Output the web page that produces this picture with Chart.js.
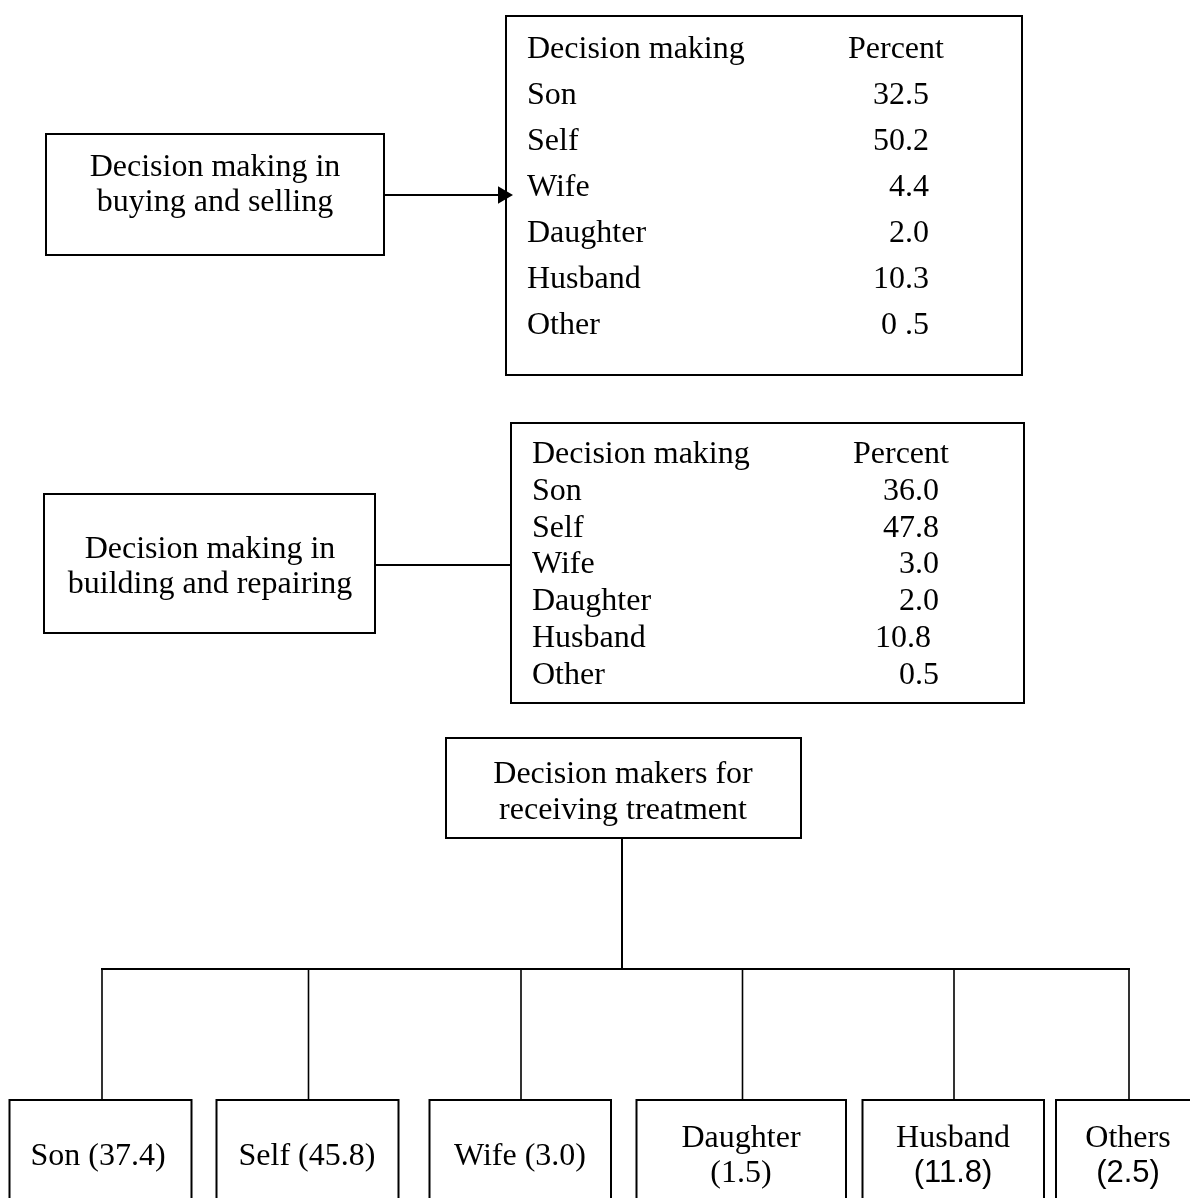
<!DOCTYPE html>
<html>
<head>
<meta charset="utf-8">
<script src="https://cdn.jsdelivr.net/npm/chart.js@4.4.1/dist/chart.umd.min.js"></script>
<style>
  html, body { margin: 0; padding: 0; background: #fff; }
  #wrap { width: 1190px; height: 1198px; position: relative; }
</style>
</head>
<body>
<div id="wrap"><canvas id="diagram"></canvas></div>
<script>
// DATA
const buyCats = ['Son', 'Self', 'Wife', 'Daughter', 'Husband', 'Other'];
const buyValues = [32.5, 50.2, 4.4, 2.0, 10.3, 0.5];
const buyLabels = ['32.5', '50.2', '4.4', '2.0', '10.3', '0 .5'];

const buildCats = ['Son', 'Self', 'Wife', 'Daughter', 'Husband', 'Other'];
const buildValues = [36.0, 47.8, 3.0, 2.0, 10.8, 0.5];
const buildLabels = ['36.0', '47.8', '3.0', '2.0', '10.8 ', '0.5'];

const treatCats = ['Son', 'Self', 'Wife', 'Daughter', 'Husband', 'Others'];
const treatValues = [37.4, 45.8, 3.0, 1.5, 11.8, 2.5];
const treatLabels = ['37.4', '45.8', '3.0', '1.5', '11.8', '2.5'];

const headCol1 = 'Decision making';
const headCol2 = 'Percent';

// LAYOUT (page units = pixels of the 1190x1198 sheet)
const SERIF = '32px "Liberation Serif", "Times New Roman", serif';
const SANS = '31px "Liberation Sans", Arial, sans-serif';

const buyBox = { x1: 46, y1: 134, x2: 384, y2: 255, cx: 215, lines: ['Decision making in', 'buying and selling'], base: 176, step: 35 };
const buyTable = { x1: 506, y1: 16, x2: 1022, y2: 375, left: 527, head2: 848, right: 929, base: 58, step: 46 };

const buildBox = { x1: 44, y1: 494, x2: 375, y2: 633, cx: 210, lines: ['Decision making in', 'building and repairing'], base: 558, step: 35 };
const buildTable = { x1: 511, y1: 423, x2: 1024, y2: 703, left: 532, head2: 853, right: 939, base: 463, step: 36.8 };

const treatBox = { x1: 446, y1: 738, x2: 801, y2: 838, cx: 623, lines: ['Decision makers for', 'receiving treatment'], base: 783, step: 36 };
const busY = 969;
const childTop = 1100;
const childBottom = 1230;
const childX1 = [9.5, 216.5, 429.5, 636.5, 862.5, 1056];
const childX2 = [191.5, 398.5, 611, 846, 1044, 1230];
const childDrop = [102, 308.5, 521, 742.5, 954, 1129];
const childCx = [98, 307, 520, 741, 953, 1128];
const childNumFont = [SERIF, SERIF, SERIF, SERIF, SANS, SANS];

// HELPERS
function rect(b) {
    return [
        { x: b.x1, y: b.y1 }, { x: b.x2, y: b.y1 }, { x: b.x2, y: b.y2 },
        { x: b.x1, y: b.y2 }, { x: b.x1, y: b.y1 }
    ];
}
function stroke(points, width) {
    return {
        data: points,
        showLine: true,
        borderColor: '#000',
        borderWidth: width || 2,
        borderCapStyle: 'square',
        borderJoinStyle: 'miter',
        pointRadius: 0,
        tension: 0
    };
}

const datasets = [];
// section 1
datasets.push(stroke(rect(buyBox)));
datasets.push(stroke(rect(buyTable)));
datasets.push(stroke([{ x: buyBox.x2, y: 195 }, { x: 500, y: 195 }]));
datasets.push({
    data: [{ x: 503, y: 195 }],
    pointStyle: 'triangle',
    rotation: 90,
    pointRadius: 10,
    backgroundColor: '#000',
    borderColor: '#000',
    borderWidth: 0,
    showLine: false
});
// section 2
datasets.push(stroke(rect(buildBox)));
datasets.push(stroke(rect(buildTable)));
datasets.push(stroke([{ x: buildBox.x2, y: 565 }, { x: buildTable.x1, y: 565 }]));
// section 3
datasets.push(stroke(rect(treatBox)));
datasets.push(stroke([{ x: 622, y: treatBox.y2 }, { x: 622, y: busY }]));
datasets.push(stroke([{ x: childDrop[0], y: busY }, { x: childDrop[childDrop.length - 1], y: busY }]));
treatCats.forEach((c, i) => {
    datasets.push(stroke([{ x: childDrop[i], y: busY }, { x: childDrop[i], y: childTop }], 1.6));
    datasets.push(stroke(rect({ x1: childX1[i], y1: childTop, x2: childX2[i], y2: childBottom })));
});

// TEXT
const textPlugin = {
    id: 'diagramText',
    afterDatasetsDraw(chart) {
        const ctx = chart.ctx;
        const xs = chart.scales.x;
        const ys = chart.scales.y;
        ctx.save();
        ctx.fillStyle = '#000';
        ctx.textBaseline = 'alphabetic';
        function put(txt, x, y, align, font) {
            ctx.font = font || SERIF;
            ctx.textAlign = align;
            ctx.fillText(txt, xs.getPixelForValue(x), ys.getPixelForValue(y));
        }
        [buyBox, buildBox, treatBox].forEach((b) => {
            b.lines.forEach((l, i) => put(l, b.cx, b.base + i * b.step, 'center'));
        });
        function table(t, cats, labels) {
            put(headCol1, t.left, t.base, 'left');
            put(headCol2, t.head2, t.base, 'left');
            cats.forEach((c, i) => {
                const y = t.base + (i + 1) * t.step;
                put(c, t.left, y, 'left');
                put(labels[i], t.right, y, 'right');
            });
        }
        table(buyTable, buyCats, buyLabels);
        table(buildTable, buildCats, buildLabels);
        treatCats.forEach((c, i) => {
            const num = '(' + treatLabels[i] + ')';
            if (c.length > 4) {
                put(c, childCx[i], 1147, 'center');
                put(num, childCx[i], 1182, 'center', childNumFont[i]);
            } else {
                put(c + ' ' + num, childCx[i], 1165, 'center');
            }
        });
        ctx.restore();
    }
};

new Chart(document.getElementById('diagram'), {
    type: 'scatter',
    data: { datasets: datasets },
    options: {
        responsive: true,
        maintainAspectRatio: false,
        animation: false,
        layout: { padding: 0, autoPadding: false },
        plugins: { legend: { display: false }, tooltip: { enabled: false } },
        scales: {
            x: { type: 'linear', min: 0, max: 1190, display: false },
            y: { type: 'linear', min: 0, max: 1198, reverse: true, display: false }
        }
    },
    plugins: [textPlugin]
});
</script>
</body>
</html>
